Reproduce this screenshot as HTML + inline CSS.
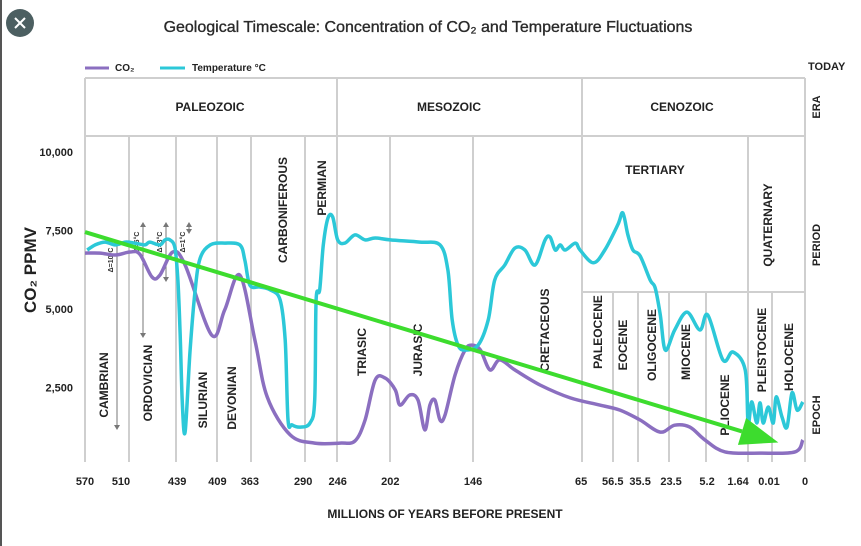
<!DOCTYPE html>
<html><head><meta charset="utf-8"><style>
html,body{margin:0;padding:0;background:#fff;}
svg{display:block;font-family:"Liberation Sans",sans-serif;}
</style></head><body>
<svg id="chart" width="861" height="546" viewBox="0 0 861 546">
<rect x="0" y="0" width="2" height="546" fill="#555"/>
<g>
<circle cx="20" cy="23" r="14" fill="#4c5f61"/>
<path d="M15 18 L25 28 M25 18 L15 28" stroke="#fff" stroke-width="2"/>
</g>
<text x="428" y="32" text-anchor="middle" font-size="16" fill="#2a2a2a" stroke="#2a2a2a" stroke-width="0.35">Geological Timescale: Concentration of CO₂ and Temperature Fluctuations</text>
<g>
<line x1="85" y1="68" x2="109" y2="68" stroke="#8b6fc0" stroke-width="3"/>
<text x="115" y="71" font-size="10" font-weight="bold" fill="#222">CO₂</text>
<line x1="160" y1="68" x2="185" y2="68" stroke="#2cc8d8" stroke-width="3"/>
<text x="192" y="71" font-size="10" font-weight="bold" fill="#222">Temperature °C</text>
</g>
<text x="808" y="70" font-size="11" font-weight="bold" fill="#222">TODAY</text>
<g id="grid"></g>
<g id="labels"></g>
<g id="series"></g>
<g id="axes"></g>
<text transform="translate(36,270) rotate(-90)" text-anchor="middle" font-size="17" font-weight="bold" fill="#222">CO₂ PPMV</text>
<text x="445" y="518" text-anchor="middle" font-size="12" font-weight="bold" fill="#222">MILLIONS OF YEARS BEFORE PRESENT</text>
</svg>
<script>
// x values are timescale positions (0 = 570 Ma at left, 100 = today at right)
const xTickLabels = ["570","510","439","409","363","290","246","202","146","65","56.5","35.5","23.5","5.2","1.64","0.01","0"];
const xTickUnits = [0,5,12.8,18.4,22.9,30.3,35.1,42.4,53.9,68.9,73.3,77.1,81.4,86.4,90.7,95,100];
const yTickValues = [2500,5000,7500,10000];
const yTickLabels = ["2,500","5,000","7,500","10,000"];
const co2X = [0,2.1,4.2,6.25,7.6,9.3,10.4,12.2,13.9,17.6,19.4,21.5,23.6,25.3,28.5,31.9,35.4,37.5,38.9,40.3,41.7,43.1,43.75,45.1,46.25,47.2,47.9,48.6,49.3,50,51.4,52.8,53.75,54.9,56.25,57.6,59.7,63.2,67.4,71.5,74.3,77.1,79.9,81.9,84,86.1,88.9,93.75,98.6,99.7];
const co2Y = [6780,6780,6720,6815,6750,6020,6080,6815,6400,4170,4970,6080,4010,2200,990,730,730,800,1465,2740,2800,2420,1940,2260,2100,1150,1940,2100,1465,1620,2900,3700,3850,3700,3060,3380,3060,2580,2170,1940,1780,1465,1080,1300,1240,830,450,410,450,830];
const tempX = [0.3,1.4,2.8,4.2,5.6,6.9,8.3,9.0,10.4,11.1,11.8,12.5,12.9,13.2,13.5,13.9,14.6,15.3,16.0,17.4,19.4,21.5,22.2,22.9,24.3,25.7,27.1,27.8,28.2,28.75,29.9,31.25,31.9,32.1,32.6,33.1,33.75,34.4,35.1,36.1,37.5,38.9,40.3,42.4,46.5,49.3,50.4,51.0,51.8,52.8,54.6,56.0,56.9,58.3,59.7,61.1,62.5,63.9,64.6,65.3,66.0,66.7,68.1,68.75,70.6,72.2,74.0,74.7,75.4,76.1,77.1,78.5,79.2,79.9,80.6,81.9,83.6,85.4,86.5,88.6,90.0,91.7,92.1,92.6,93.3,93.75,94.2,94.9,95.6,96.0,96.8,97.5,98.2,98.9,99.7];
const tempY = [6880,7040,7130,7040,7130,7100,7040,7130,7040,7200,7200,6940,5920,4330,2100,1080,3690,5610,6620,7040,7100,7040,6560,5760,5700,5610,5290,4010,1470,1310,1240,1370,2100,5290,5610,7040,7900,7930,7200,7100,7360,7200,7260,7200,7130,7040,6240,4650,3850,3690,3850,4650,5920,6400,6940,6880,6400,7200,7290,6880,7040,6880,7100,6880,6470,6880,7680,8060,7360,6880,6690,5920,5670,4810,3690,4330,4900,4330,4810,3380,3630,3060,1370,2040,1370,2010,1370,1880,1370,2200,1560,1240,2330,1780,2040];
const trendStart = [0,7450];
const trendEnd = [96.3,750];

const NS="http://www.w3.org/2000/svg";
const X0=85,X1=805,TOP=78,BOT=462;
function xs(u){return X0+(X1-X0)*u/100;}
function ys(v){return 466-v*78.5/2500;}
function mk(tag,attrs,parent){const e=document.createElementNS(NS,tag);for(const k in attrs)e.setAttribute(k,attrs[k]);parent.appendChild(e);return e;}

const grid=document.getElementById('grid');
const G="#cfcfcf";
function ln(x1,y1,x2,y2,name){const l=mk('line',{x1:x1,y1:y1,x2:x2,y2:y2,stroke:G,'stroke-width':2},grid);

}
ln(X0,TOP,X1,TOP,'header-top-border');
ln(X0,136,X1,136,'era-row-divider');
ln(X0,TOP,X0,BOT,'left-border');
ln(X1,TOP,X1,BOT,'right-border');
ln(337,TOP,337,BOT,'era-divider-paleozoic-mesozoic');
ln(582,TOP,582,BOT,'era-divider-mesozoic-cenozoic');
[129,176,217,251,305,390,473,748].forEach(x=>ln(x,136,x,BOT,'period-divider'));
ln(582,292,X1,292,'epoch-row-divider');
[613,638,669,706,772].forEach(x=>ln(x,292,x,BOT,'epoch-divider'));

const lab=document.getElementById('labels');
function txt(s,x,y,rot,size,name){const t=mk('text',{x:0,y:0,'font-size':size,'font-weight':'bold',fill:'#222','text-anchor':'middle','dominant-baseline':'central',transform:`translate(${x},${y})`+(rot?' rotate(-90)':'')},lab);t.textContent=s;

}
txt('PALEOZOIC',210,107,false,12,'era-paleozoic');
txt('MESOZOIC',449,107,false,12,'era-mesozoic');
txt('CENOZOIC',682,107,false,12,'era-cenozoic');
txt('TERTIARY',655,170,false,12,'period-tertiary');
txt('ERA',817,107,true,11,'row-label-era');
txt('PERIOD',817,245,true,11,'row-label-period');
txt('EPOCH',817,415,true,11,'row-label-epoch');
const rl=[['CARBONIFEROUS',283,210],['PERMIAN',322,188],['QUATERNARY',768,225],['CAMBRIAN',104,385],['ORDOVICIAN',148,383],['SILURIAN',203,400],['DEVONIAN',232,398],['TRIASIC',362,352],['JURASIC',418,350],['CRETACEOUS',545,330],['PALEOCENE',598,332],['EOCENE',623,345],['OLIGOCENE',652,345],['MIOCENE',686,352],['PLIOCENE',725,405],['PLEISTOCENE',762,350],['HOLOCENE',789,357]];
rl.forEach(r=>txt(r[0],r[1],r[2],true,12,'label-'+r[0].toLowerCase()));

const deltas=[['Δ=10°C',117,240,430,113],['Δ=6°C',143,222,338,139],['Δ=3°C',166,222,282,162],['Δ=1°C',189,222,234,185]];
deltas.forEach(d=>{
const g=mk('g',{},lab);


mk('line',{x1:d[1],y1:d[2]+4,x2:d[1],y2:d[3]-4,stroke:'#777','stroke-width':1},g);
mk('path',{d:`M${d[1]-3} ${d[2]+5} L${d[1]} ${d[2]} L${d[1]+3} ${d[2]+5}Z`,fill:'#777'},g);
mk('path',{d:`M${d[1]-3} ${d[3]-5} L${d[1]} ${d[3]} L${d[1]+3} ${d[3]-5}Z`,fill:'#777'},g);
const t=mk('text',{x:0,y:0,'font-size':7,'font-weight':'bold',fill:'#333','text-anchor':'middle',transform:`translate(${d[4]},${d[2]+20}) rotate(-90)`},g);t.textContent=d[0];
});

const ser=document.getElementById('series');
function pathOf(X,Y){
const P=X.map((x,i)=>[xs(x),ys(Y[i])]);
let s='M'+P[0][0].toFixed(1)+' '+P[0][1].toFixed(1);
for(let i=0;i<P.length-1;i++){
const p0=P[Math.max(0,i-1)],p1=P[i],p2=P[i+1],p3=P[Math.min(P.length-1,i+2)];
const c1x=p1[0]+(p2[0]-p0[0])/6,c1y=p1[1]+(p2[1]-p0[1])/6;
const c2x=p2[0]-(p3[0]-p1[0])/6,c2y=p2[1]-(p3[1]-p1[1])/6;
s+=`C${c1x.toFixed(1)} ${c1y.toFixed(1)} ${c2x.toFixed(1)} ${c2y.toFixed(1)} ${p2[0].toFixed(1)} ${p2[1].toFixed(1)}`;
}
return s;}
const co2=mk('path',{d:pathOf(co2X,co2Y),fill:'none',stroke:'#8b6fc0','stroke-width':3.5,'stroke-linejoin':'round'},ser);


const tmp=mk('path',{d:pathOf(tempX,tempY),fill:'none',stroke:'#2cc8d8','stroke-width':3.5,'stroke-linejoin':'round'},ser);


const ax=xs(trendStart[0]),ay=ys(trendStart[1]),bx=xs(trendEnd[0]),by=ys(trendEnd[1]);
const dx=bx-ax,dy=by-ay,L=Math.hypot(dx,dy),ux=dx/L,uy=dy/L;
const hx=bx-ux*38,hy=by-uy*38;
const tr=mk('line',{x1:ax,y1:ay,x2:hx,y2:hy,stroke:'#3ddc2e','stroke-width':4},ser);


const hd=mk('path',{d:`M${bx} ${by} L${hx-uy*14} ${hy+ux*14} L${hx+uy*14} ${hy-ux*14}Z`,fill:'#3ddc2e'},ser);



const axes=document.getElementById('axes');
xTickLabels.forEach((s,i)=>{const t=mk('text',{x:xs(xTickUnits[i]),y:485,'font-size':11,'font-weight':'bold',fill:'#222','text-anchor':'middle'},axes);t.textContent=s;

});
yTickValues.forEach((v,i)=>{const t=mk('text',{x:73,y:ys(v)+4,'font-size':11,'font-weight':'bold',fill:'#222','text-anchor':'end'},axes);t.textContent=yTickLabels[i];

});
</script>
</body></html>
